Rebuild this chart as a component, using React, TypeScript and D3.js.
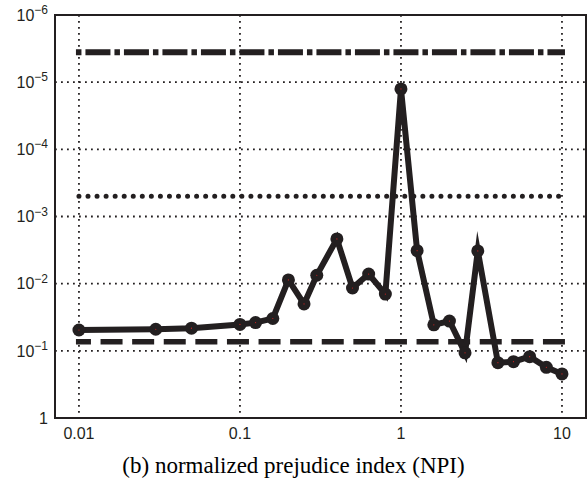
import React from "react";
import * as d3 from "d3";

// ---- data ----
const npi = [0.01, 0.03, 0.05, 0.1, 0.125, 0.16, 0.2, 0.25, 0.3, 0.4, 0.5, 0.63, 0.8, 1, 1.26, 1.6, 2, 2.5, 3, 4, 5, 6.3, 8, 10];
const values = [0.049, 0.0477, 0.046, 0.0405, 0.038, 0.033, 0.0088, 0.02, 0.0075, 0.00216, 0.0116, 0.0072, 0.0143, 1.26e-5, 0.00323, 0.041, 0.036, 0.107, 0.00326, 0.15, 0.145, 0.122, 0.176, 0.221];

const refRange = [0.01, 10];
const dashDotLevel = 3.6e-6;
const dottedLevel = 5e-4;
const dashedLevel = 0.073;

const xTicks = [0.01, 0.1, 1, 10];
const xTickLabels = ["0.01", "0.1", "1", "10"];
const yTicks = [1e-6, 1e-5, 1e-4, 1e-3, 1e-2, 1e-1, 1];
const yTickExponents = ["-6", "-5", "-4", "-3", "-2", "-1", ""];
const yGridTicks = [1e-5, 1e-4, 1e-3, 1e-2, 1e-1];

const caption = "(b) normalized prejudice index (NPI)";

const INK = "#231f20";

export default function App() {
  const W = 588, H = 485;
  const left = 55, right = 586, top = 15, bottom = 418;
  const x = d3.scaleLog().domain([0.0071, 14.1]).range([left, right]);
  const y = d3.scaleLog().domain([1e-6, 1]).range([top, bottom]);

  const pts = npi.map((v, i) => [v, values[i]] as [number, number]);
  const line = d3.line<[number, number]>().x(d => x(d[0])).y(d => y(d[1]));

  const x0 = x(refRange[0]);
  const x1 = x(refRange[1]);

  return (
    <svg width={W} height={H} style={{ position: "absolute", left: 0, top: 0, background: "#fff" }}>
      {/* grid */}
      <g stroke={INK} strokeWidth={1.8} strokeDasharray="1.8 4.2" fill="none">
        {yGridTicks.map(t => (
          <line key={"gy" + t} x1={left} x2={right} y1={y(t)} y2={y(t)} />
        ))}
        {xTicks.map(t => (
          <line key={"gx" + t} x1={x(t)} x2={x(t)} y1={top} y2={bottom} />
        ))}
      </g>

      {/* reference lines */}
      <line x1={x0 - 3} x2={x1 + 3} y1={y(dashDotLevel)} y2={y(dashDotLevel)}
        stroke={INK} strokeWidth={6} strokeDasharray="5.5 4 25 4" />
      <line x1={x0} x2={x1} y1={y(dottedLevel)} y2={y(dottedLevel)}
        stroke={INK} strokeWidth={5} strokeLinecap="round" strokeDasharray="0.01 9.04" />
      <line x1={x0 - 3} x2={x1 + 3} y1={y(dashedLevel)} y2={y(dashedLevel)}
        stroke={INK} strokeWidth={5.5} strokeDasharray="22 9.6" strokeDashoffset={7} />

      {/* frame */}
      <rect x={left} y={top} width={right - left} height={bottom - top} fill="none" stroke={INK} strokeWidth={2} />

      {/* data */}
      <path d={line(pts) || ""} fill="none" stroke={INK} strokeWidth={6} strokeLinejoin="miter" strokeMiterlimit={8} />
      {pts.map((p, i) => (
        <g key={"m" + i}>
          <circle cx={x(p[0])} cy={y(p[1])} r={6.5} fill={INK} />
          <circle cx={x(p[0])} cy={y(p[1])} r={0.6} fill="#d02020" />
        </g>
      ))}

      {/* x tick labels */}
      <g fontFamily="'Liberation Sans', Arial, sans-serif" fontSize={16} fill={INK} textAnchor="middle">
        {xTicks.map((t, i) => (
          <text key={"xl" + t} x={x(t)} y={439}>{xTickLabels[i]}</text>
        ))}
      </g>

      {/* y tick labels */}
      <g fontFamily="'Liberation Sans', Arial, sans-serif" fill={INK} textAnchor="end">
        {yTicks.map((t, i) => (
          <text key={"yl" + t} x={48} y={y(t) + 5.7} fontSize={16}>
            {yTickExponents[i] === "" ? "1" : "10"}
            {yTickExponents[i] !== "" && (
              <tspan fontSize={12} dy={-6.7}>{yTickExponents[i].replace("-", "\u2212")}</tspan>
            )}
          </text>
        ))}
      </g>

      {/* caption */}
      <text x={293.5} y={473} textAnchor="middle" fontFamily="'Liberation Serif', 'Times New Roman', serif" fontSize={23} fill="#000">
        {caption}
      </text>
    </svg>
  );
}
